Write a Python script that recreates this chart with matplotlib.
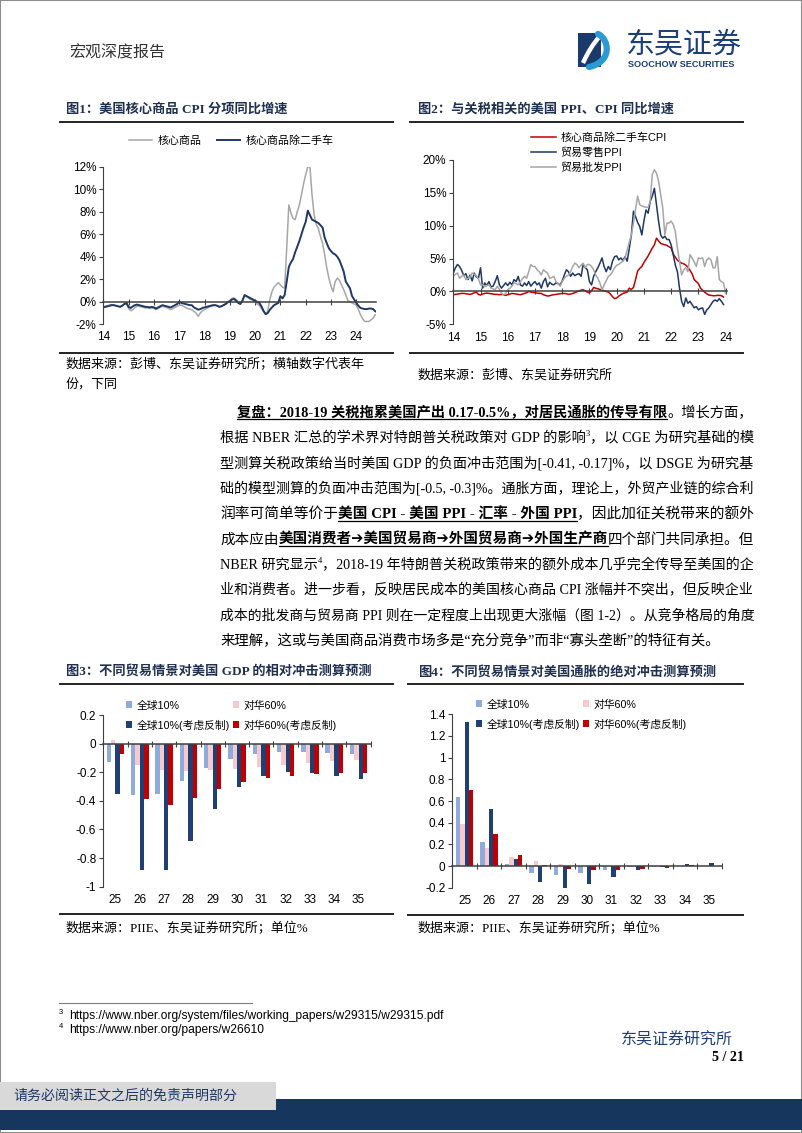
import matplotlib
matplotlib.use("Agg")
import matplotlib.pyplot as plt
import numpy as np
from matplotlib.lines import Line2D
from matplotlib.patches import Rectangle, PathPatch
from matplotlib.path import Path

W, H = 802, 1133
CJK = "Noto Sans CJK SC"
SANS = ["Liberation Sans", CJK, "DejaVu Sans"]
SERIF = ["Liberation Serif", CJK, "DejaVu Sans"]
plt.rcParams.update({"font.family": SANS, "axes.unicode_minus": False})

NAVY = "#1f3864"
GRAY = "#a6a6a6"
RED = "#c00000"
TITLE_C = "#1f3050"
AX_C = "#404040"

# ---- 图1 / 图2 data (monthly, Jan 2014 onwards) ----
year_labels = ["14", "15", "16", "17", "18", "19", "20", "21", "22", "23", "24"]

core_goods = [
    -0.50, -0.40, -0.35, -0.30, -0.25, -0.30, -0.35, -0.40, -0.45, -0.30, -0.20, -0.20,
    -0.60, -0.80, -0.70, -0.50, -0.40, -0.40, -0.45, -0.50, -0.55, -0.55, -0.60, -0.55,
    -0.60, -0.70, -0.60, -0.50, -0.40, -0.45, -0.50, -0.60, -0.70, -0.60, -0.50, -0.40,
    -0.30, -0.30, -0.40, -0.50, -0.60, -0.65, -0.70, -0.85, -1.00, -1.30, -1.00, -0.80,
    -0.70, -0.60, -0.50, -0.40, -0.35, -0.30, -0.35, -0.45, -0.40, -0.30, -0.20, -0.05,
    0.10, 0.30, 0.35, 0.20, 0.00, -0.10, 0.10, 0.50, 0.45, 0.30, 0.20, 0.10,
    0.00, -0.20, -0.30, -0.60, -0.90, -1.10, -0.80, 0.20, 0.90, 1.30, 1.50, 1.70,
    1.50, 1.30, 1.20, 4.80, 8.60, 7.90, 7.40, 7.30, 8.00, 8.60, 9.50, 10.50,
    11.30, 12.00, 12.00, 9.50, 7.70, 6.90, 6.50, 5.80, 5.20, 4.20, 3.00, 2.10,
    1.40, 0.90, 1.80, 2.10, 1.90, 1.50, 1.10, 0.60, 0.10, 0.00, -0.10, -0.20,
    -0.30, -0.70, -1.15, -1.50, -1.75, -1.75, -1.75, -1.60, -1.45, -1.15,
]
core_goods_ex_used = [
    -0.50, -0.45, -0.40, -0.35, -0.30, -0.30, -0.35, -0.40, -0.45, -0.35, -0.20, -0.10,
    -0.45, -0.55, -0.40, -0.30, -0.25, -0.30, -0.35, -0.40, -0.45, -0.45, -0.50, -0.45,
    -0.50, -0.60, -0.50, -0.40, -0.30, -0.35, -0.40, -0.45, -0.50, -0.40, -0.30, -0.20,
    0.00, -0.10, -0.15, -0.20, -0.25, -0.30, -0.30, -0.50, -0.60, -0.70, -0.65, -0.55,
    -0.50, -0.45, -0.40, -0.35, -0.30, -0.30, -0.35, -0.45, -0.40, -0.30, -0.20, -0.05,
    0.05, 0.20, 0.25, 0.10, -0.10, -0.20, 0.10, 0.60, 0.50, 0.40, 0.30, 0.20,
    0.10, 0.00, -0.10, -0.40, -0.80, -1.10, -1.00, -0.70, -0.50, -0.30, -0.20, -0.10,
    0.50, 0.30, 0.60, 1.80, 3.10, 3.50, 3.80, 4.40, 4.90, 5.40, 6.00, 6.60,
    7.10, 8.10, 7.70, 7.30, 7.20, 7.10, 7.00, 6.80, 6.60, 5.70, 5.20, 4.75,
    4.50, 4.30, 4.20, 4.00, 3.70, 3.20, 2.70, 1.80, 1.50, 1.20, 0.50, 0.20,
    -0.10, -0.35, -0.55, -0.60, -0.65, -0.65, -0.60, -0.60, -0.65, -0.85,
]
# 图2 uses a category axis: 13 points between labels
retail_ppi = [
    2.8, 3.6, 4.1, 3.8, 3.2, 2.4, 2.7, 1.8, 2.5, 1.6, 2.8, 2.2, 2.0,
    3.6, 0.5, 1.3, 0.9, 1.5, 0.7, 0.8, 1.5, 2.4, 1.0, 0.5, 0.9, 1.3,
    0.9, 1.4, 1.0, 1.8, 1.5, 2.3, 1.0, 0.8, 1.3, 0.9, 1.5, 0.8, 1.2,
    1.5, 1.0, 1.3, 0.5, 1.5, 2.0, 0.7, 1.4, 1.1, 1.0, 1.3, 1.2, 1.0,
    1.6, 2.5, 3.3, 3.0, 2.3, 2.8, 2.4, 2.6, 2.7, 2.3, 4.1, 3.6, 3.3,
    1.5, 1.0, 2.3, 3.0, 3.6, 4.3, 5.1, 3.8, 3.0, 3.8, 3.3, 4.6, 5.3,
    5.4, 4.8, 5.1, 4.7, 5.3, 4.6, 6.5, 8.6, 12.2, 11.4, 10.5, 9.9, 8.6,
    10.7, 12.4, 11.9, 13.7, 14.5, 15.7, 13.2, 10.7, 8.6, 8.1, 8.4, 7.9, 7.9,
    7.1, 5.6, 4.0, 3.0, 0.5, -1.5, -2.3, -1.0, -1.8, -1.5, -2.0, -2.5, -2.3,
    -2.8, -2.6, -2.5, -3.5, -2.8, -2.5, -2.0, -1.5, -1.3, -1.5, -1.1, -1.5, -2.0,
]
wholesale_ppi = [
    2.3, 2.6, 2.8, 2.0, 2.3, 2.5, 1.8, 2.0, 2.2, 2.8, 2.6, 2.4, 1.9,
    1.0, 1.0, 0.7, 0.9, 1.0, 0.5, 0.4, 0.25, 0.8, 0.3, -0.25, -0.5, -0.3,
    0.25, 0.5, 0.8, 1.3, 1.2, 1.0, 1.5, 1.9, 2.3, 2.0, 3.0, 4.1, 3.8,
    3.8, 3.3, 3.0, 2.5, 3.3, 3.0, 2.8, 2.0, 2.1, 2.3, 1.5, 1.2, 0.8,
    1.5, 2.0, 2.3, 2.5, 3.0, 3.8, 4.3, 4.1, 3.6, 4.0, 4.3, 3.6, 4.1,
    4.1, 3.8, 3.3, 2.5, 2.0, 1.3, 0.25, 1.0, 1.6, 2.3, 2.5, 3.0, 3.6,
    4.0, 4.1, 4.4, 4.6, 5.1, 6.3, 7.5, 8.6, 10.4, 12.5, 14.5, 13.2, 13.0,
    12.9, 12.8, 12.8, 13.7, 17.8, 18.5, 18.0, 16.8, 14.7, 12.7, 8.6, 10.4, 10.4,
    10.7, 10.2, 9.1, 6.6, 4.6, 2.5, 3.3, 3.6, 3.0, 5.6, 5.1, 4.5, 3.8,
    5.1, 5.0, 5.1, 3.8, 4.8, 5.1, 4.8, 3.6, 3.6, 5.3, 1.8, 1.5, 1.3, -0.3,
]

# ---- 图3 / 图4 data ----
horizon = ["25", "26", "27", "28", "29", "30", "31", "32", "33", "34", "35"]
bar_names = ["全球10%", "对华60%", "全球10%(考虑反制)", "对华60%(考虑反制)"]
bar_colors = ["#8faadc", "#f6c9cd", "#203f75", "#c00000"]
gdp_global10 = [-0.125, -0.36, -0.35, -0.26, -0.17, -0.105, -0.07, -0.06, -0.06, -0.065, -0.07]
gdp_china60 = [0.025, -0.15, -0.185, -0.19, -0.185, -0.175, -0.165, -0.15, -0.135, -0.12, -0.115]
gdp_global10_ret = [-0.35, -0.88, -0.885, -0.68, -0.46, -0.305, -0.225, -0.2, -0.205, -0.225, -0.245]
gdp_china60_ret = [-0.07, -0.39, -0.43, -0.38, -0.32, -0.27, -0.24, -0.225, -0.21, -0.205, -0.205]
cpi_global10 = [0.64, 0.225, 0.02, -0.06, -0.08, -0.065, -0.035, -0.01, -0.005, 0.0, 0.0]
cpi_china60 = [0.39, 0.17, 0.085, 0.045, 0.015, 0.0, -0.01, -0.01, -0.01, 0.005, 0.0]
cpi_global10_ret = [1.33, 0.53, 0.065, -0.15, -0.2, -0.165, -0.1, -0.035, -0.01, 0.02, 0.025]
cpi_china60_ret = [0.70, 0.30, 0.10, 0.005, -0.03, -0.035, -0.035, -0.025, -0.015, 0.005, 0.0]

BODY = [
    [("复盘：2018-19 关税拖累美国产出 0.17-0.5%，对居民通胀的传导有限", "bu"), ("。增长方面，", "n")],
    [("根据 NBER 汇总的学术界对特朗普关税政策对 GDP 的影响", "n"), ("3", "sup"),
     ("，以 CGE 为研究基础的模", "n")],
    [("型测算关税政策给当时美国 GDP 的负面冲击范围为[-0.41, -0.17]%，以 DSGE 为研究基", "n")],
    [("础的模型测算的负面冲击范围为[-0.5, -0.3]%。通胀方面，理论上，外贸产业链的综合利", "n")],
    [("润率可简单等价于", "n"), ("美国 CPI - 美国 PPI - 汇率 - 外国 PPI", "bu"), ("，因此加征关税带来的额外", "n")],
    [("成本应由", "n"), ("美国消费者➔美国贸易商➔外国贸易商➔外国生产商", "bu"), ("四个部门共同承担。但", "n")],
    [("NBER 研究显示", "n"), ("4", "sup"), ("，2018-19 年特朗普关税政策带来的额外成本几乎完全传导至美国的企", "n")],
    [("业和消费者。进一步看，反映居民成本的美国核心商品 CPI 涨幅并不突出，但反映企业", "n")],
    [("成本的批发商与贸易商 PPI 则在一定程度上出现更大涨幅（图 1-2）。从竞争格局的角度", "n")],
    [("来理解，这或与美国商品消费市场多是“充分竞争”而非“寡头垄断”的特征有关。", "n")],
]

fig = plt.figure(figsize=(W / 100, H / 100), dpi=100)
renderer = fig.canvas.get_renderer()


def X(x): return x / W
def Y(y): return 1 - y / H
def pt(px): return px * 0.72


def axes_px(x0, y0, x1, y1):
    ax = fig.add_axes([X(x0), Y(y1), (x1 - x0) / W, (y1 - y0) / H])
    ax.patch.set_alpha(0)
    return ax


def hline(x0, x1, y, color="#222222", lw=1.2):
    fig.add_artist(Line2D([X(x0), X(x1)], [Y(y), Y(y)], transform=fig.transFigure, color=color, lw=lw))


def ftext(x, y, s, px, **kw):
    kw.setdefault("va", "center")
    kw.setdefault("ha", "left")
    return fig.text(X(x), Y(y), s, fontsize=pt(px), **kw)


def style_axes(ax, ylim, yticks, ylabels, xticks, xlabels, label_px, xlabel_pos=None):
    ax.set_ylim(*ylim)
    for s in ("top", "right"):
        ax.spines[s].set_visible(False)
    ax.spines["left"].set_color(AX_C)
    ax.spines["bottom"].set_color(AX_C)
    ax.spines["bottom"].set_position(("data", 0))
    ax.spines["bottom"].set_linewidth(1.1)
    ax.set_yticks(yticks, ylabels)
    ax.tick_params(axis="y", direction="out", length=3, width=0.8, color=AX_C, labelsize=8.5, pad=2)
    ax.set_xticks(xticks)
    ax.tick_params(axis="x", direction="inout", length=5, width=0.8, color=AX_C, labelbottom=False)
    # category labels sit under the plot, not at the zero line
    bb = ax.get_position()
    frac = (Y(label_px) - bb.y0) / bb.height
    pos = xticks if xlabel_pos is None else xlabel_pos
    for p, lab in zip(pos, xlabels):
        ax.text(p, frac, lab, transform=ax.get_xaxis_transform(), ha="center", va="center",
                fontsize=8.5, clip_on=False)


def chart_frame(x0, x1, title, title_x, source_lines, src_x, top_rule, bottom_rule):
    ftext(title_x, top_rule - 12, title, 13.2, family=SERIF, weight="bold", color=TITLE_C)
    hline(x0, x1, top_rule, lw=1.4)
    hline(x0, x1, bottom_rule, lw=1.4)
    for y, s in source_lines:
        ftext(src_x, y, s, 13, family=SERIF)


# ---------- page furniture ----------
fig.add_artist(Rectangle((0, 0), 1, 1, transform=fig.transFigure, fill=False, ec="#8c8c8c", lw=1.5))
ftext(69, 53, "宏观深度报告", 16, family=SERIF, color="#333333")

# logo
fig.add_artist(Rectangle((X(578), Y(67)), 23 / W, 34 / H, transform=fig.transFigure, color="#1b3a6b", lw=0))
s_path = Path([(X(583), Y(63)), (X(588), Y(52)), (X(593), Y(44)), (X(600), Y(36))],
              [Path.MOVETO, Path.CURVE4, Path.CURVE4, Path.CURVE4])
fig.add_artist(PathPatch(s_path, transform=fig.transFigure, fill=False, ec="white", lw=3.2))
c_path = Path([(X(589), Y(67)), (X(612), Y(62)), (X(610), Y(40)), (X(598), Y(34))],
              [Path.MOVETO, Path.CURVE4, Path.CURVE4, Path.CURVE4])
fig.add_artist(PathPatch(c_path, transform=fig.transFigure, fill=False, ec="#2a9ad5", lw=4.5,
                         capstyle="round"))
ftext(626, 45, "东吴证券", 29, family=[CJK], color="#1c3f7a")
ftext(628, 64.5, "SOOCHOW SECURITIES", 9.2, family=SANS, weight="bold", color="#1c3f7a")

# ---------- 图1 ----------
chart_frame(60, 393, "图1：美国核心商品 CPI 分项同比增速", 66,
            [(365, "数据来源：彭博、东吴证券研究所；横轴数字代表年"), (385, "份，下同")], 66, 121.7, 353)
ax1 = axes_px(103.3, 166.7, 103.3 + 129.5 * 25.3 / 12, 324.3)
m1 = np.arange(len(core_goods))
l1, = ax1.plot(m1, core_goods, color=GRAY, lw=1.1)
l2, = ax1.plot(np.arange(len(core_goods_ex_used)), core_goods_ex_used, color=NAVY, lw=1.4)
ax1.set_xlim(0, 129.5)
style_axes(ax1, (-2, 12), np.arange(-2, 13, 2), [f"{v}%" for v in range(-2, 13, 2)],
           np.arange(0, 121, 12), year_labels, 337)
ax1.legend([l1, l2], ["核心商品", "核心商品除二手车"], ncol=2, loc="upper left",
           bbox_to_anchor=(X(129), Y(135.5)), bbox_transform=fig.transFigure, frameon=False,
           prop={"family": SERIF, "size": pt(11)}, handlelength=2.1, handletextpad=0.5,
           columnspacing=1.4, borderpad=0, borderaxespad=0)

# ---------- 图2 ----------
chart_frame(410, 743, "图2：与关税相关的美国 PPI、CPI 同比增速", 418,
            [(375, "数据来源：彭博、东吴证券研究所")], 418, 121.7, 352.7)
step2 = 27.23 / 13
ax2 = axes_px(453.3, 160, 453.3 + 130.5 * step2, 324.3)
r1, = ax2.plot(np.arange(len(core_goods_ex_used)), core_goods_ex_used, color=RED, lw=1.1)
r2, = ax2.plot(np.arange(len(retail_ppi)), retail_ppi, color=NAVY, lw=1.1)
r3, = ax2.plot(np.arange(len(wholesale_ppi)), wholesale_ppi, color=GRAY, lw=1.1)
ax2.set_xlim(0, 130.5)
style_axes(ax2, (-5, 20), np.arange(-5, 21, 5), [f"{v}%" for v in range(-5, 21, 5)],
           np.arange(0, 131, 13), year_labels, 338.3)
ax2.legend([r1, r2, r3], ["核心商品除二手车CPI", "贸易零售PPI", "贸易批发PPI"], loc="upper left",
           bbox_to_anchor=(X(531), Y(132.5)), bbox_transform=fig.transFigure, frameon=False,
           prop={"family": SANS, "size": pt(11)}, handlelength=2.3, handletextpad=0.35,
           labelspacing=0.42, borderpad=0, borderaxespad=0)


# ---------- 图3 / 图4 ----------
def bar_chart(ax, series, ylim, yticks, ylabels, label_px, leg_xy):
    xs = np.arange(len(horizon))
    w = 0.18
    handles = []
    for k, (vals, col) in enumerate(zip(series, bar_colors)):
        handles.append(ax.bar(xs + (k - 1.5) * w, vals, width=w, color=col, lw=0))
    ax.set_xlim(-0.5, len(horizon) - 0.5)
    style_axes(ax, ylim, yticks, ylabels, np.arange(-0.5, len(horizon), 1.0), horizon, label_px,
               xlabel_pos=xs)
    order = [0, 2, 1, 3]
    ax.legend([handles[i] for i in order], [bar_names[i] for i in order], ncol=2, loc="upper left",
              bbox_to_anchor=(X(leg_xy[0]), Y(leg_xy[1])), bbox_transform=fig.transFigure,
              frameon=False, prop={"family": SANS, "size": pt(10.8)}, handlelength=0.6,
              handleheight=0.6, handletextpad=0.35, columnspacing=0.3, labelspacing=0.82,
              borderpad=0, borderaxespad=0)


chart_frame(60, 393, "图3：不同贸易情景对美国 GDP 的相对冲击测算预测", 66,
            [(929, "数据来源：PIIE、东吴证券研究所；单位%")], 66, 683.5, 914.3)
ax3 = axes_px(103.3, 715, 370.7, 886.7)
gdp_ticks = [0.2, 0, -0.2, -0.4, -0.6, -0.8, -1]
bar_chart(ax3, [gdp_global10, gdp_china60, gdp_global10_ret, gdp_china60_ret], (-1, 0.2),
          gdp_ticks, ["0.2", "0", "-0.2", "-0.4", "-0.6", "-0.8", "-1"], 900, (126, 700.5))

chart_frame(408, 743, "图4：不同贸易情景对美国通胀的绝对冲击测算预测", 418,
            [(929, "数据来源：PIIE、东吴证券研究所；单位%")], 418, 684.3, 915)
ax4 = axes_px(452.3, 714.3, 721.7, 887.7)
cpi_ticks = [1.4, 1.2, 1.0, 0.8, 0.6, 0.4, 0.2, 0, -0.2]
bar_chart(ax4, [cpi_global10, cpi_china60, cpi_global10_ret, cpi_china60_ret], (-0.2, 1.4),
          cpi_ticks, ["1.4", "1.2", "1", "0.8", "0.6", "0.4", "0.2", "0", "-0.2"], 901, (476, 699.5))


# ---------- body text ----------
def draw_runs(x, base_y, runs, size, draw=True):
    xp = x
    arts = []
    for s, style in runs:
        kw = dict(family=SERIF, va="baseline", ha="left")
        yy = base_y
        fs = size
        if style == "bu":
            kw["weight"] = "bold"
        if style == "sup":
            fs = size * 0.6
            yy = base_y - size * 0.45
        t = fig.text(X(xp), Y(yy), s, fontsize=pt(fs), **kw)
        wpx = t.get_window_extent(renderer).width
        arts.append(t)
        if draw and style == "bu":
            hline(xp, xp + wpx, base_y + 2.5, color="black", lw=0.9)
        xp += wpx
    return xp - x, arts


BODY_SIZE = 14.4
for i, runs in enumerate(BODY):
    x0 = 237 if i == 0 else 220
    base = 411.7 + i * 25.4 + 5
    size = BODY_SIZE
    if i < len(BODY) - 1:
        wnat, tmp = draw_runs(x0, base, runs, BODY_SIZE, draw=False)
        for t in tmp:
            t.remove()
        size = BODY_SIZE * min(1.12, max(0.88, (752 - x0) / wnat))
    draw_runs(x0, base, runs, size)

# ---------- footnotes & footer ----------
hline(59, 252, 1002.7, color="#7f7f7f", lw=0.8)
NARROW = ["Liberation Sans Narrow", "Liberation Sans"]
ftext(59, 1012.5, "3", 7.5, family=NARROW)
ftext(69, 1016, "https://www.nber.org/system/files/working_papers/w29315/w29315.pdf", 12.0, family=NARROW)
ftext(59, 1026.5, "4", 7.5, family=NARROW)
ftext(69, 1030, "https://www.nber.org/papers/w26610", 12.0, family=NARROW)
ftext(621, 1041, "东吴证券研究所", 16, family=SERIF, color="#1c3f7a")
ftext(744, 1057.5, "5 / 21", 14, family=SERIF, weight="bold", ha="right")

fig.add_artist(Rectangle((0, Y(1130)), 1, (1130 - 1099) / H, transform=fig.transFigure,
                         color="#17365d", lw=0))
fig.add_artist(Rectangle((0, Y(1110)), 276 / W, (1110 - 1081.7) / H, transform=fig.transFigure,
                         color="#d9d9d9", lw=0))
ftext(13, 1096, "请务必阅读正文之后的免责声明部分", 14, family=SERIF, color="#1f3864")

fig.savefig("out.png", dpi=100, facecolor="white")
